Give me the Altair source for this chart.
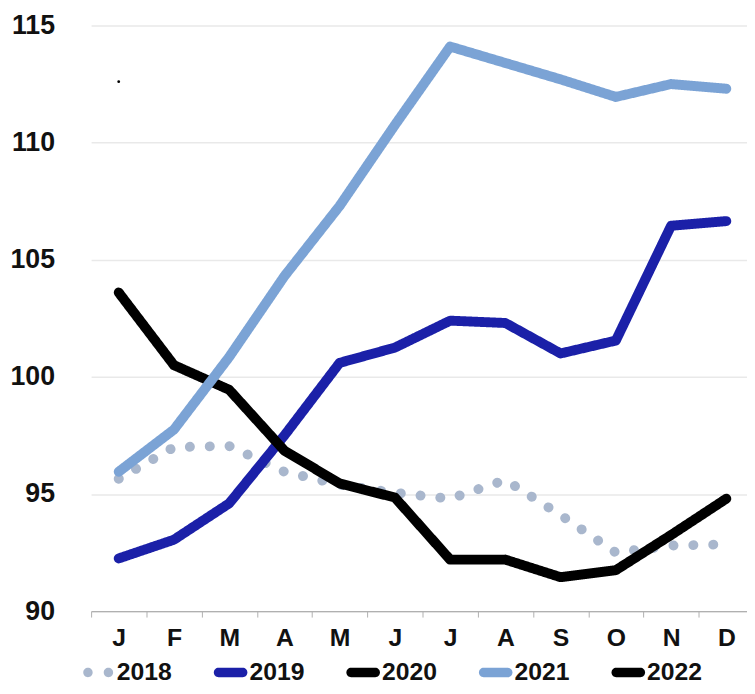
import altair as alt
import pandas as pd

months = ["Jan", "Feb", "Mar", "Apr", "May", "Jun", "Jul", "Aug", "Sep", "Oct", "Nov", "Dec"]
years = ["2018", "2019", "2020", "2021", "2022"]
v2018 = [95.65, 97.0, 97.05, 95.95, 95.4, 95.05, 94.8, 95.6, 94.1, 92.5, 92.8, 92.85]
v2019 = [92.25, 93.05, 94.6, 97.5, 100.6, 101.25, 102.4, 102.3, 101.0, 101.55, 106.45, 106.65]
v2020 = [103.6, 100.5, 99.45, 96.85, 95.45, 94.85, 92.2, 92.2, 91.45, 91.75, 93.25, 94.8]
v2021 = [95.95, 97.75, 100.85, 104.3, 107.3, 110.75, 114.1, 113.4, 112.7, 111.95, 112.5, 112.3]
v2022 = [112.6]
colors = ["#a9b7cd", "#1b20a8", "#000000", "#7ba3d5", "#000000"]
dashes = [[0.1, 20], [1, 0], [1, 0], [1, 0], [1, 0]]
y_ticks = [90, 95, 100, 105, 110, 115]

# legend glyphs (unit square -1..1): two dots, or a rounded bar
r = 0.28
def circle(cx):
    return f"M {cx - r} 0 A {r} {r} 0 1 0 {cx + r} 0 A {r} {r} 0 1 0 {cx - r} 0 Z"
dots_path = circle(-0.6) + " " + circle(0.62)
bar_path = (f"M -{1 - r} -{r} H {1 - r} A {r} {r} 0 0 1 {1 - r} {r} "
            f"H -{1 - r} A {r} {r} 0 0 1 -{1 - r} -{r} Z")
shapes = [dots_path, bar_path, bar_path, bar_path, bar_path]

rows = []
for yr, vals in zip(years[:4], [v2018, v2019, v2020, v2021]):
    for m, v in zip(months, vals):
        rows.append({"month": m, "year": yr, "value": v})
df = pd.DataFrame(rows)
df22 = pd.DataFrame({"month": months[:len(v2022)], "year": "2022", "value": v2022})
df_leg = pd.DataFrame({"month": "Jan", "year": years, "value": [None] * len(years)})

x = alt.X("month:N", sort=months, title=None,
          scale=alt.Scale(paddingInner=0, paddingOuter=0, range=[0, 670]),
          axis=alt.Axis(labelExpr="substring(datum.label,0,1)", labelAngle=0,
                        labelFont="Liberation Sans", labelFontWeight="bold",
                        labelFontSize=25, labelColor="#111111", labelPadding=9,
                        tickBand="extent", tickSize=6, tickColor="#b0b0b0",
                        domainColor="#b0b0b0", domainWidth=1.2, grid=False))
y = alt.Y("value:Q", title=None,
          scale=alt.Scale(domain=[90, 115], nice=False, zero=False),
          axis=alt.Axis(values=y_ticks, labelFont="Liberation Sans", labelFontWeight="bold",
                        labelFontSize=27, labelColor="#111111", labelPadding=37,
                        domain=False, ticks=False, gridColor="#e9e9e9", gridWidth=1.5))

color_scale = alt.Scale(domain=years, range=colors)

legend = alt.Legend(title=None, orient="none", legendX=-10, legendY=637,
                    direction="horizontal", columns=5, columnPadding=42,
                    symbolSize=1150, symbolStrokeWidth=0,
                    labelFont="Liberation Sans", labelFontWeight="bold",
                    labelFontSize=25, labelColor="#111111", labelOffset=2)

lines = alt.Chart(df).mark_line(strokeWidth=10, strokeCap="round", strokeJoin="round").encode(
    x=x, y=y,
    color=alt.Color("year:N", scale=color_scale, legend=legend),
    strokeDash=alt.StrokeDash("year:N", scale=alt.Scale(domain=years, range=dashes), legend=None),
    detail="year:N",
)

dot22 = alt.Chart(df22).mark_circle(size=8, opacity=1, color="#000000").encode(x=x, y=y)

leg = alt.Chart(df_leg).mark_point(filled=True, opacity=1).encode(
    x=x, y=y,
    color=alt.Color("year:N", scale=color_scale, legend=legend),
    shape=alt.Shape("year:N", scale=alt.Scale(domain=years, range=shapes), legend=legend),
)

chart = alt.layer(lines, dot22, leg).properties(
    width=655, height=592,
    autosize=alt.AutoSizeParams(type="none"),
    padding={"left": 84, "top": 14, "right": 8, "bottom": 72},
).configure_view(stroke=None)

chart.save("out.html", embed_options={"renderer": "svg", "actions": False})
